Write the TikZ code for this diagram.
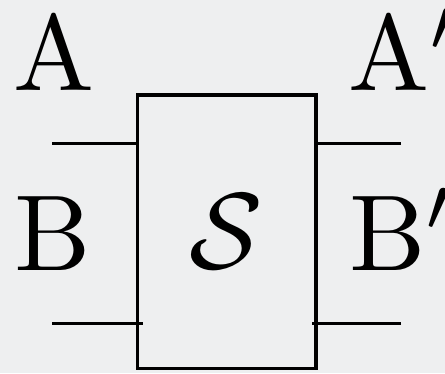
\documentclass[tikz,border=0pt]{standalone}
\begin{document}
\begin{tikzpicture}[x=1pt,y=-1pt,
  lbl/.style={inner sep=0pt, outer sep=0pt, scale=10.8, anchor=base west},
  wire/.style={line width=3.2pt},
  boxst/.style={draw, line width=3.2pt, minimum width=178.5pt, minimum height=273.5pt, inner sep=0pt, outer sep=0pt}]
\definecolor{paper}{RGB}{238,239,240}
\fill[paper] (0,0) rectangle (445,373);
\useasboundingbox (0,0) rectangle (445,373);
\node[boxst] (box) at (226.75,231.75) {};
\node[inner sep=0pt, scale=10.8, anchor=base] (s) at (226,268) {$\mathcal{S}$};
\node[lbl] (a) at (13,90) {A};
\node[lbl] (b) at (14,270) {B};
\node[lbl] (ap) at (348,90) {A$'$};
\node[lbl] (bp) at (349,270) {B$'$};
\coordinate (ain) at (52,143.3);
\coordinate (bin) at (52,323.3);
\coordinate (aout) at (401,143.3);
\coordinate (bout) at (401,323.3);
\draw[wire] (ain) -- (ain -| box.west);
\draw[wire] (bin) -- ([xshift=5pt]bin -| box.west);
\draw[wire] (aout) -- (aout -| box.east);
\draw[wire] (bout) -- ([xshift=-4pt]bout -| box.east);
\end{tikzpicture}
\end{document}
